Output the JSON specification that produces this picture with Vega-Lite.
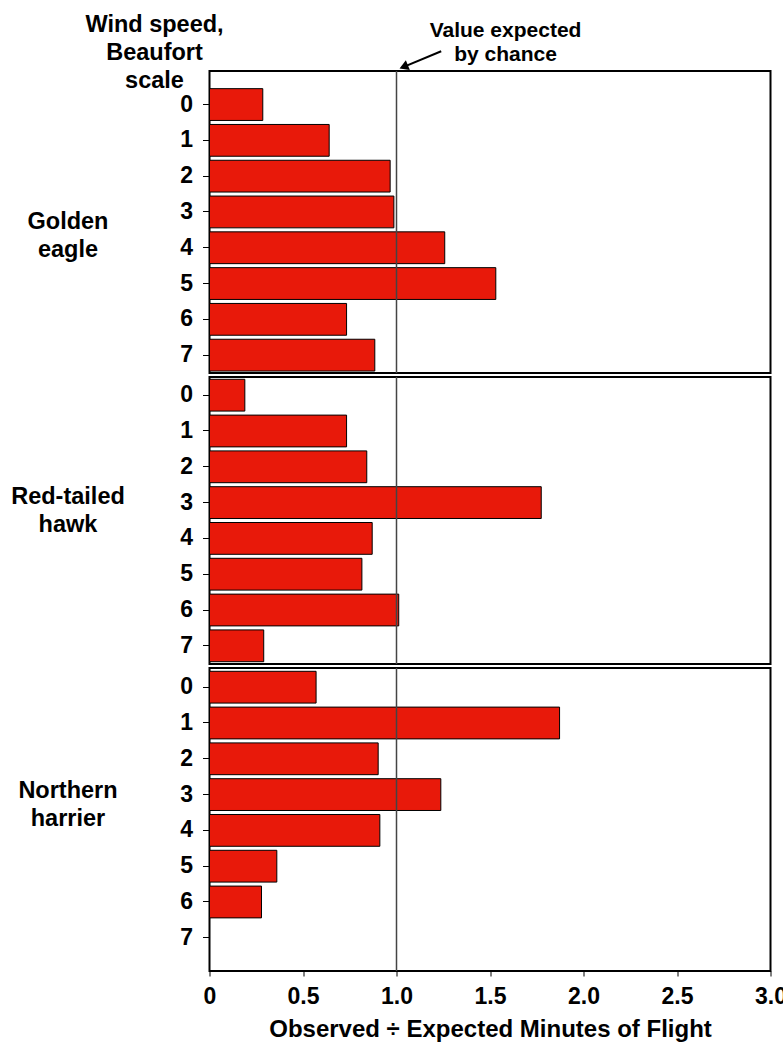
{
  "$schema": "https://vega.github.io/schema/vega-lite/v6.json",
  "background": "white",
  "padding": {"left": 9.5, "top": 12, "right": 0, "bottom": 0},
  "config": {
    "font": "Liberation Sans",
    "view": {"stroke": "black", "strokeWidth": 2},
    "axis": {
      "labelFont": "Liberation Sans", "labelFontSize": 23, "labelFontWeight": "bold", "labelColor": "black",
      "titleFont": "Liberation Sans", "titleFontSize": 23.5, "titleFontWeight": "bold", "titleColor": "black",
      "grid": false, "domain": false, "tickColor": "black", "tickWidth": 1
    }
  },
  "data": {"values": [
    {"species": "Golden eagle", "wind": "0", "ratio": 0.285},
    {"species": "Golden eagle", "wind": "1", "ratio": 0.64},
    {"species": "Golden eagle", "wind": "2", "ratio": 0.966},
    {"species": "Golden eagle", "wind": "3", "ratio": 0.986},
    {"species": "Golden eagle", "wind": "4", "ratio": 1.258},
    {"species": "Golden eagle", "wind": "5", "ratio": 1.531},
    {"species": "Golden eagle", "wind": "6", "ratio": 0.733},
    {"species": "Golden eagle", "wind": "7", "ratio": 0.884},
    {"species": "Red-tailed hawk", "wind": "0", "ratio": 0.189},
    {"species": "Red-tailed hawk", "wind": "1", "ratio": 0.733},
    {"species": "Red-tailed hawk", "wind": "2", "ratio": 0.841},
    {"species": "Red-tailed hawk", "wind": "3", "ratio": 1.774},
    {"species": "Red-tailed hawk", "wind": "4", "ratio": 0.870},
    {"species": "Red-tailed hawk", "wind": "5", "ratio": 0.815},
    {"species": "Red-tailed hawk", "wind": "6", "ratio": 1.012},
    {"species": "Red-tailed hawk", "wind": "7", "ratio": 0.29},
    {"species": "Northern harrier", "wind": "0", "ratio": 0.570},
    {"species": "Northern harrier", "wind": "1", "ratio": 1.872},
    {"species": "Northern harrier", "wind": "2", "ratio": 0.902},
    {"species": "Northern harrier", "wind": "3", "ratio": 1.237},
    {"species": "Northern harrier", "wind": "4", "ratio": 0.911},
    {"species": "Northern harrier", "wind": "5", "ratio": 0.360},
    {"species": "Northern harrier", "wind": "6", "ratio": 0.278}
  ]},
  "spacing": 4,
  "bounds": "flush",
  "vconcat": [
    {
      "width": 561, "height": 302,
      "title": {"text": ["Wind speed,", "Beaufort", "scale"], "anchor": "start", "frame": "group", "align": "center", "dx": -55, "offset": -97, "fontSize": 23.5, "fontWeight": "bold", "lineHeight": 28, "baseline": "bottom", "font": "Liberation Sans", "color": "black"},
      "layer": [
        {
          "transform": [{"filter": "datum.species === 'Golden eagle'"}],
          "mark": {"type": "bar", "fill": "#E8190A", "stroke": "black", "strokeWidth": 1},
          "encoding": {
            "y": {"field": "wind", "type": "ordinal",
              "scale": {"domain": ["0","1","2","3","4","5","6","7"], "paddingInner": 0.112, "paddingOuter": 0.274, "align": 0.9},
              "axis": {"title": ["Golden", "eagle"], "titleAngle": 0, "titleAlign": "center", "titleBaseline": "middle", "titleX": -142, "titleY": 150.5, "titleLineHeight": 28, "labelAngle": 0, "tickSize": 7, "labelPadding": 10}},
            "x": {"field": "ratio", "type": "quantitative", "scale": {"domain": [0, 3], "nice": false}, "axis": null}
          }
        },
        {
          "data": {"values": [{"ref": 1}]},
          "mark": {"type": "rule", "color": "#444444", "strokeWidth": 1.5},
          "encoding": {"x": {"field": "ref", "type": "quantitative"}}
        },
        {
          "data": {"values": [{"note": "Value expected by chance"}]},
          "mark": {"type": "text", "text": ["Value expected", "by chance"], "fontSize": 21, "fontWeight": "bold", "lineHeight": 24, "align": "center", "baseline": "top", "color": "black", "yOffset": -85},
          "encoding": {"x": {"datum": 1.583}, "y": {"datum": "0"}}
        },
        {
          "data": {"values": [{"note": "arrow"}]},
          "mark": {"type": "rule", "color": "black", "strokeWidth": 2, "yOffset": -37.7, "y2Offset": -53.3},
          "encoding": {"x": {"datum": 1.0385}, "x2": {"datum": 1.239}, "y": {"datum": "0"}, "y2": {"datum": "0"}}
        },
        {
          "data": {"values": [{"note": "arrowhead"}]},
          "mark": {"type": "point", "shape": "triangle-up", "filled": true, "color": "black", "opacity": 1, "size": 108, "angle": 247.5, "yOffset": -37.7},
          "encoding": {"x": {"datum": 1.0385}, "y": {"datum": "0"}}
        }
      ]
    },
    {
      "width": 561, "height": 287,
      "layer": [
        {
          "transform": [{"filter": "datum.species === 'Red-tailed hawk'"}],
          "mark": {"type": "bar", "fill": "#E8190A", "stroke": "black", "strokeWidth": 1},
          "encoding": {
            "y": {"field": "wind", "type": "ordinal",
              "scale": {"domain": ["0","1","2","3","4","5","6","7"], "paddingInner": 0.112, "paddingOuter": 0.064, "align": 0.5},
              "axis": {"title": ["Red-tailed", "hawk"], "titleAngle": 0, "titleAlign": "center", "titleBaseline": "middle", "titleX": -142, "titleY": 119, "titleLineHeight": 28, "labelAngle": 0, "tickSize": 7, "labelPadding": 10}},
            "x": {"field": "ratio", "type": "quantitative", "scale": {"domain": [0, 3], "nice": false}, "axis": null}
          }
        },
        {
          "data": {"values": [{"ref": 1}]},
          "mark": {"type": "rule", "color": "#444444", "strokeWidth": 1.5},
          "encoding": {"x": {"field": "ref", "type": "quantitative"}}
        }
      ]
    },
    {
      "width": 561, "height": 303,
      "layer": [
        {
          "transform": [{"filter": "datum.species === 'Northern harrier'"}],
          "mark": {"type": "bar", "fill": "#E8190A", "stroke": "black", "strokeWidth": 1},
          "encoding": {
            "y": {"field": "wind", "type": "ordinal",
              "scale": {"domain": ["0","1","2","3","4","5","6","7"], "paddingInner": 0.112, "paddingOuter": 0.288, "align": 0.16},
              "axis": {"title": ["Northern", "harrier"], "titleAngle": 0, "titleAlign": "center", "titleBaseline": "middle", "titleX": -142, "titleY": 122.5, "titleLineHeight": 28, "labelAngle": 0, "tickSize": 7, "labelPadding": 10}},
            "x": {"field": "ratio", "type": "quantitative", "scale": {"domain": [0, 3], "nice": false},
              "axis": {"values": [0, 0.5, 1, 1.5, 2, 2.5, 3], "labelExpr": "datum.value == 0 ? '0' : format(datum.value, '.1f')", "tickSize": 5, "labelPadding": 9, "labelFlush": false, "title": "Observed ÷ Expected Minutes of Flight", "titleFontSize": 24, "titlePadding": 9}}
          }
        },
        {
          "data": {"values": [{"ref": 1}]},
          "mark": {"type": "rule", "color": "#444444", "strokeWidth": 1.5},
          "encoding": {"x": {"field": "ref", "type": "quantitative"}}
        }
      ]
    }
  ]
}
